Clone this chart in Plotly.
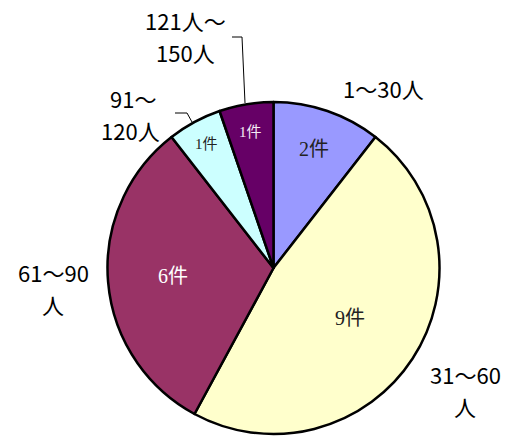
import math
import plotly.graph_objects as go

W, H = 514, 436

categories = ["1～30人", "31～60人", "61～90人", "91～120人", "121人～150人"]
counts = [2, 9, 6, 1, 1]
colors = ["#9999FF", "#FFFFCC", "#993366", "#CCFFFF", "#660066"]
text_colors = ["#222222", "#222222", "#FFFFFF", "#222222", "#F4E8F4"]
text_sizes = [20, 20, 20, 15, 15]
text_radius = [0.76, 0.55, 0.61, 0.85, 0.83]   # fraction of pie radius
slice_texts = [f"{c}件" for c in counts]

# outside label lines and their pixel centres
outside_lines = [
    [("1～30人", (383, 88))],
    [("31～60", (465, 374)), ("人", (465, 406))],
    [("61～90", (53, 272)), ("人", (53, 304))],
    [("91～", (133, 98)), ("120人", (130, 130))],
    [("121人～", (185, 20)), ("150人", (185, 52))],
]

cx, cy, r = 273.5, 268, 166

fig = go.Figure(go.Pie(
    labels=categories,
    values=counts,
    textinfo="none",
    sort=False,
    direction="clockwise",
    rotation=0,
    marker=dict(colors=colors, line=dict(color="black", width=2.5)),
    showlegend=False,
    hoverinfo="label+value",
    domain=dict(x=[(cx - r) / W, (cx + r) / W],
                y=[(H - cy - r) / H, (H - cy + r) / H]),
))

annotations = []
total = sum(counts)
cum = 0
for c, t, col, sz, rf in zip(counts, slice_texts, text_colors, text_sizes, text_radius):
    mid = (cum + c / 2) / total * 2 * math.pi
    cum += c
    x = cx + rf * r * math.sin(mid)
    y = cy - rf * r * math.cos(mid)
    annotations.append(dict(
        x=x / W, y=1 - y / H, xref="paper", yref="paper",
        text=t, showarrow=False, xanchor="center", yanchor="middle",
        font=dict(family="Liberation Serif, Noto Sans CJK JP", size=sz, color=col),
    ))

for lines in outside_lines:
    for lab, (x, y) in lines:
        annotations.append(dict(
            x=x / W, y=1 - y / H, xref="paper", yref="paper",
            text=lab, showarrow=False, xanchor="center", yanchor="middle",
            font=dict(family="Noto Sans CJK JP, DejaVu Sans", size=22, color="black"),
        ))

def px_path(pts):
    return "M " + " L ".join(f"{x / W},{1 - y / H}" for x, y in pts)

shapes = [
    dict(type="path", xref="paper", yref="paper",
         path=px_path([(175, 113), (187, 113), (192, 122)]),
         line=dict(color="black", width=1)),
    dict(type="path", xref="paper", yref="paper",
         path=px_path([(232, 37), (242, 37), (245, 103)]),
         line=dict(color="black", width=1)),
]

fig.update_layout(
    width=W, height=H,
    margin=dict(l=0, r=0, t=0, b=0),
    paper_bgcolor="white", plot_bgcolor="white",
    annotations=annotations, shapes=shapes,
)

fig.write_html("out.html")
